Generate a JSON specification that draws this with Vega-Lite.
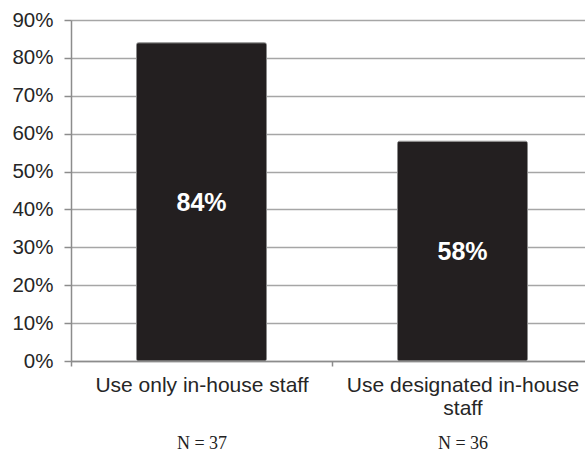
{
  "$schema": "https://vega.github.io/schema/vega-lite/v6.json",
  "width": 522,
  "height": 341,
  "autosize": {"type": "none"},
  "padding": {"left": 71, "top": 20, "right": 0, "bottom": 94},
  "background": "white",
  "data": {
    "values": [
      {"group": "Use only in-house staff", "n": "N = 37", "share": 84},
      {"group": "Use designated in-house staff", "n": "N = 36", "share": 58}
    ]
  },
  "config": {
    "view": {"stroke": null},
    "font": "Liberation Sans",
    "axis": {
      "labelFont": "Liberation Sans",
      "labelColor": "#262626",
      "domainColor": "#8c8c8c",
      "tickColor": "#8c8c8c",
      "gridColor": "#a6a6a6",
      "gridWidth": 1.5,
      "domainWidth": 1.5,
      "tickWidth": 1.5,
      "labelLimit": 400
    }
  },
  "layer": [
    {
      "mark": {"type": "bar", "color": "#231f20", "stroke": "#8a8a8a", "strokeWidth": 1, "cornerRadius": 2, "size": 130},
      "encoding": {
        "x": {
          "field": "group",
          "type": "nominal",
          "sort": null,
          "scale": {"paddingInner": 0, "paddingOuter": 0},
          "axis": {
            "title": null,
            "labelAngle": 0,
            "labelFontSize": 21,
            "tickSize": 5,
            "labelPadding": 8,
            "labelLineHeight": 23,
            "tickBand": "extent",
            "labelExpr": "datum.value == 'Use designated in-house staff' ? ['Use designated in-house', 'staff'] : datum.value"
          }
        },
        "y": {
          "field": "share",
          "type": "quantitative",
          "scale": {"domain": [0, 90]},
          "axis": {
            "title": null,
            "values": [0, 10, 20, 30, 40, 50, 60, 70, 80, 90],
            "labelExpr": "datum.value + '%'",
            "labelFontSize": 20.5,
            "tickSize": 7,
            "labelPadding": 11,
            "grid": true
          }
        }
      }
    },
    {
      "transform": [
        {"calculate": "datum.share / 2", "as": "mid"},
        {"calculate": "datum.share + '%'", "as": "shareLabel"}
      ],
      "mark": {"type": "text", "color": "white", "fontWeight": "bold", "fontSize": 25, "font": "Liberation Sans", "baseline": "middle", "dy": 1},
      "encoding": {
        "x": {
          "field": "n",
          "type": "nominal",
          "sort": null,
          "scale": {"paddingInner": 0, "paddingOuter": 0},
          "axis": {
            "title": null,
            "orient": "bottom",
            "domain": false,
            "ticks": false,
            "grid": false,
            "labelAngle": 0,
            "labelPadding": 0,
            "offset": 73,
            "labelFont": "Liberation Serif",
            "labelColor": "#222222",
            "labelFontSize": 18
          }
        },
        "y": {"field": "mid", "type": "quantitative", "axis": null},
        "text": {"field": "shareLabel", "type": "nominal"}
      }
    }
  ],
  "resolve": {"scale": {"x": "independent"}, "axis": {"x": "independent", "y": "independent"}}
}
